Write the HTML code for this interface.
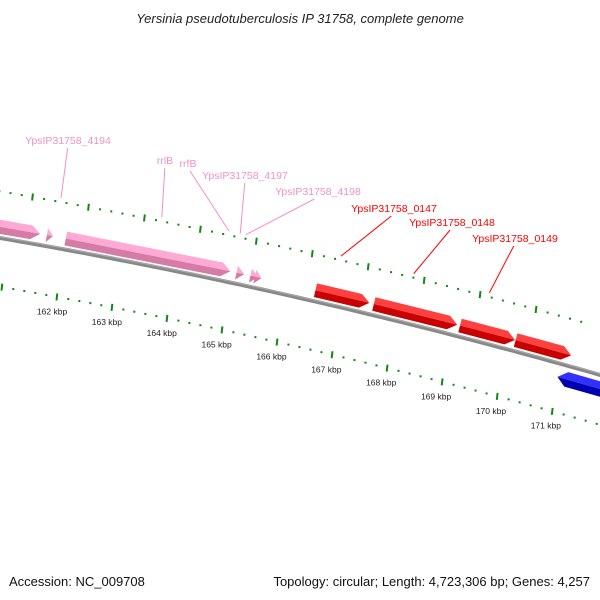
<!DOCTYPE html>
<html><head><meta charset="utf-8"><style>
body{margin:0;background:#fff;}
svg{display:block;font-family:"Liberation Sans","DejaVu Sans",sans-serif;}
</style></head><body>
<svg id="chart" width="600" height="600" viewBox="0 0 600 600">
<text x="300" y="23" text-anchor="middle" font-size="13" font-style="italic" fill="#222">Yersinia pseudotuberculosis IP 31758, complete genome</text>
<g id="labels"></g>
<g id="ticks"></g>
<g id="genes"></g>
<text x="9" y="586" font-size="13" fill="#111">Accession: NC_009708</text>
<text x="590" y="586" font-size="13" fill="#111" text-anchor="end">Topology: circular; Length: 4,723,306 bp; Genes: 4,257</text>
</svg>
<script>
const tickKbp=[161,162,163,164,165,166,167,168,169,170,171];
const tickLabels=["","162 kbp","163 kbp","164 kbp","165 kbp","166 kbp","167 kbp","168 kbp","169 kbp","170 kbp","171 kbp"];
const geneStart=[160.6,161.62,161.96,165.03,165.28,165.36,166.45,167.5,169.05,170.05,170.92];
const geneEnd=[161.5,161.73,164.92,165.17,165.42,165.48,167.42,169.0,170.04,171.05,172.2];
const geneStrand=[1,1,1,1,1,1,1,1,1,1,-1];
const geneColor=["pink","pink","pink","pink","pink","pink","red","red","red","red","blue"];
const labelText=["YpsIP31758_4194","rrlB","rrfB","YpsIP31758_4197","YpsIP31758_4198","YpsIP31758_0147","YpsIP31758_0148","YpsIP31758_0149"];
const labelKbp=[161.75,163.55,164.75,164.95,165.05,166.75,168.05,169.4];
const labelTx=[68,165,188,245,318,394,452,515];
const labelTy=[144,164,167,179,195,212,226,242];
const labelColorName=["pink","pink","pink","pink","pink","red","red","red"];

const NS="http://www.w3.org/2000/svg";
const svg=document.getElementById('chart');
const COL={pink:["#ffaad4","#d67aa6","#f590c4"],red:["#ff4040","#c80000","#ff0000"],blue:["#3030ff","#0000b0","#0000ff"]};
function xOf(k){return 66+(k-162)*55.5;}
function yOf(x){return 238+0.1717*x+0.000094*x*x;}
function slope(x){return 0.1717+2*0.000094*x;}
function pt(k,off){const x=xOf(k);const s=slope(x);const n=Math.sqrt(1+s*s);return [x+(-s)*off/n*-1*-1*0+ (s*off/n)*-1*-1, yOf(x)+off/n];}
function P(k,off){const x=xOf(k);const s=slope(x);const n=Math.sqrt(1+s*s);return [x - s*off/n, yOf(x)+off/n];}
function mk(tag,attrs,parent){const e=document.createElementNS(NS,tag);for(const a in attrs)e.setAttribute(a,attrs[a]);parent.appendChild(e);return e;}

// backbone
const bb=[];for(let x=-10;x<=610;x+=10)bb.push(x+','+yOf(x).toFixed(1));
const bbl=mk('polyline',{points:bb.join(' '),fill:'none',stroke:'#888',"stroke-width":4},svg);


const bbh=mk('polyline',{points:bb.map(p=>{const[a,b]=p.split(',');return a+','+(b-1.2);}).join(' '),fill:'none',stroke:'#aaa',"stroke-width":1},svg);



// ticks
const tg=document.getElementById('ticks');
function track(off,shift,name){
 for(let i=0;i<tickKbp.length;i++){
  for(let j=0;j<5;j++){
   const k=tickKbp[i]+j*0.2+shift;
   const [x,y]=P(k,off);
   if(x<-5||x>605)continue;
   if(j==0){
    const e=mk('line',{x1:x,y1:y-3.5,x2:x-0.8,y2:y+3.5,stroke:'#118811',"stroke-width":2},tg);
    
    
   }else{
    const e=mk('rect',{x:x-1,y:y-1,width:2,height:2,fill:'#118811'},tg);
    
    
   }
  }
 }
}
track(-46,-0.74,'outer-track');
track(48,0,'inner-track');
for(let i=0;i<tickKbp.length;i++){
 if(!tickLabels[i])continue;
 const [x,y]=P(tickKbp[i],66);
 const t=mk('text',{x:x-2,y:y,"font-size":8.5,fill:'#222',"text-anchor":'middle'},tg);
 t.textContent=tickLabels[i];
 
 
}

// genes
const gg=document.getElementById('genes');
for(let i=0;i<geneStart.length;i++){
 const st=geneStrand[i];
 const o1=st>0?-18:6, o2=st>0?-4:21, om=(o1+o2)/2;
 const a=geneStart[i], b=geneEnd[i];
 const head=Math.min(0.16,(b-a));
 const c=COL[geneColor[i]];
 let top,bot;
 if(st>0){
  const h=b-head;
  top=[P(a,o1),P(h,o1),P(b,om),P(a,om)];
  bot=[P(a,om),P(b,om),P(h,o2),P(a,o2)];
 }else{
  const h=a+head;
  top=[P(a,om),P(h,o1),P(b,o1),P(b,om)];
  bot=[P(a,om),P(b,om),P(b,o2),P(h,o2)];
 }
 const g=mk('g',{},gg);
 
 
 const p1=mk('polygon',{points:top.map(p=>p.join(',')).join(' '),fill:c[0]},g);
 
 
 const p2=mk('polygon',{points:bot.map(p=>p.join(',')).join(' '),fill:c[1]},g);
 
 
}

// labels
const lg=document.getElementById('labels');
for(let i=0;i<labelText.length;i++){
 const c=COL[labelColorName[i]][2];
 const [x,y]=P(labelKbp[i],-50);
 const l=mk('line',{x1:labelTx[i]-(labelTx[i]-x)*0.05,y1:labelTy[i]+4,x2:x,y2:y,stroke:c,"stroke-width":1},lg);
 
 
 const t=mk('text',{x:labelTx[i],y:labelTy[i],"font-size":10.5,fill:c,"text-anchor":'middle'},lg);
 t.textContent=labelText[i];
 
 
}
</script>
</body></html>
